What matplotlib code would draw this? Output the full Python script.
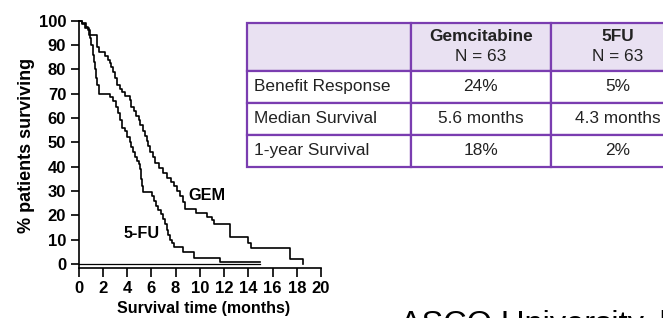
import matplotlib
matplotlib.use("Agg")
import matplotlib.pyplot as plt
from matplotlib.patches import Rectangle

# ---------------- data ----------------
gem_t = [0, 0.3, 0.55, 0.85, 1.5, 1.65, 2.2, 2.4, 2.55, 2.7, 2.85, 3.0, 3.15, 3.4, 3.6, 3.85,
         4.2, 4.35, 4.55, 4.75, 4.95, 5.1, 5.3, 5.45, 5.6, 5.75, 5.9, 6.1, 6.3, 6.65, 6.95,
         7.3, 7.6, 7.85, 8.1, 8.35, 8.6, 8.8, 9.7, 10.55, 11.0, 11.15, 12.45, 13.95, 14.25,
         17.45, 18.55]
gem_s = [100, 98.5, 97, 94, 89, 87, 85.5, 84, 82.5, 81, 79, 76.5, 73.5, 72, 70.5, 69,
         67.5, 64.5, 63, 61, 59, 57, 54.5, 52.5, 50.5, 48.5, 46, 44, 41.5, 39.5, 37.5,
         35.5, 33.5, 32, 30, 28, 25.5, 22.5, 21, 19.5, 18, 16.5, 11, 8.5, 6.5, 2, 0]

fu_t = [0, 0.3, 0.6, 0.8, 0.95, 1.05, 1.15, 1.25, 1.35, 1.45, 1.55, 1.7, 2.6, 2.85, 3.05,
        3.25, 3.4, 3.55, 3.85, 4.0, 4.2, 4.35, 4.5, 4.65, 4.8, 4.95, 5.05, 5.12, 5.2, 5.32,
        6.05, 6.2, 6.35, 6.55, 6.8, 6.95, 7.1, 7.25, 7.4, 7.55, 7.7, 7.85, 8.6, 9.5, 11.65,
        15.0]
fu_s = [100, 99, 97.5, 96, 93, 90, 86, 83, 80, 76.5, 73.5, 70, 68.5, 67, 64.5, 62, 59, 56,
        54.5, 52, 50, 48, 46, 44, 42.5, 41, 39, 35, 32, 29.5, 28, 26, 24, 22, 20.5, 18.5,
        16.5, 14, 12, 10, 8.5, 7, 5, 2.5, 1, 1]

x_ticks = [0, 2, 4, 6, 8, 10, 12, 14, 16, 18, 20]
y_ticks = [0, 10, 20, 30, 40, 50, 60, 70, 80, 90, 100]

table_header = ["", "Gemcitabine", "5FU"]
table_header_n = ["", "N = 63", "N = 63"]
row_labels = ["Benefit Response", "Median Survival", "1-year Survival"]
gem_col = ["24%", "5.6 months", "18%"]
fu_col = ["5%", "4.3 months", "2%"]

# ---------------- figure ----------------
W, H = 663, 318
fig = plt.figure(figsize=(W / 100, H / 100), dpi=100)
fig.patch.set_facecolor("white")

def fx(x):
    return x / W

def fy(y):
    return 1 - y / H

# axes: x 0..20 -> px 78.7..321 ; y -1.5..100 -> px 267.6..20.7
ax_l, ax_r = 78.7, 321.0
ax_t, ax_b = 20.7, 267.6
ax = fig.add_axes([fx(ax_l), fy(ax_b), (ax_r - ax_l) / W, (ax_b - ax_t) / H])
ax.set_xlim(0, 20)
ax.set_ylim(-1.5, 100)

ax.step(gem_t, gem_s, where="post", color="black", lw=1.2, clip_on=False)
ax.step(fu_t, fu_s, where="post", color="black", lw=1.2, clip_on=False)
ax.axhline(0, xmin=0, xmax=15 / 20, color="black", lw=0.9)

for side in ("top", "right"):
    ax.spines[side].set_visible(False)
for side in ("left", "bottom"):
    ax.spines[side].set_linewidth(1.2)
ax.spines["left"].set_bounds(-1.5, 100)

bold = dict(family="Liberation Sans", weight="bold")
ax.set_xticks(x_ticks)
ax.set_yticks(y_ticks)
ax.set_xticklabels([str(v) for v in x_ticks], fontsize=12, **bold)
ax.set_yticklabels([str(v) for v in y_ticks], fontsize=12, **bold)
ax.tick_params(axis="x", direction="out", length=6.5, width=1.2, pad=3.5)
ax.tick_params(axis="y", direction="out", length=5.5, width=1.2, pad=3.5)

fig.text(fx(27), fy(145), "% patients surviving", rotation=90, ha="center", va="center",
         fontsize=13, **bold)
fig.text(fx(204), fy(308), "Survival time (months)", ha="center", va="center",
         fontsize=11.5, **bold)

ax.text(9.06, 28, "GEM", ha="left", va="center", fontsize=11.7, **bold)
ax.text(3.74, 12.5, "5-FU", ha="left", va="center", fontsize=11.7, **bold)

# ---------------- table ----------------
purple = "#7A3DB0"
header_fill = "#E9E1F2"
col_edges = [246.7, 410.7, 551.0, 685.0]
row_edges = [22.7, 71.0, 102.7, 135.0, 166.7]

for ci in range(3):
    for ri in range(4):
        x0, x1 = col_edges[ci], col_edges[ci + 1]
        y0, y1 = row_edges[ri], row_edges[ri + 1]
        rect = Rectangle((fx(x0), fy(y1)), (x1 - x0) / W, (y1 - y0) / H,
                         transform=fig.transFigure, facecolor=header_fill if ri == 0 else "white",
                         edgecolor=purple, lw=1.6, clip_on=False)
        fig.add_artist(rect)

cell_font = dict(family="Liberation Sans", fontsize=12.4, color="#222222")
for ci in (1, 2):
    cx = (col_edges[ci] + col_edges[ci + 1]) / 2
    fig.text(fx(cx), fy(36.7), table_header[ci], ha="center", va="center", weight="bold",
             **cell_font)
    fig.text(fx(cx), fy(56.7), table_header_n[ci], ha="center", va="center", **cell_font)

for ri, label in enumerate(row_labels):
    cy = (row_edges[ri + 1] + row_edges[ri + 2]) / 2
    fig.text(fx(254), fy(cy), label, ha="left", va="center", **cell_font)
    fig.text(fx((col_edges[1] + col_edges[2]) / 2), fy(cy), gem_col[ri], ha="center",
             va="center", **cell_font)
    fig.text(fx((col_edges[2] + col_edges[3]) / 2), fy(cy), fu_col[ri], ha="center",
             va="center", **cell_font)

# footer text, clipped by the bottom edge as in the reference
fig.text(fx(400), fy(333.5), "ASCO University, h", ha="left", va="baseline",
         family="Liberation Sans", fontsize=23.4, color="black")

fig.savefig("out.png", dpi=100)
